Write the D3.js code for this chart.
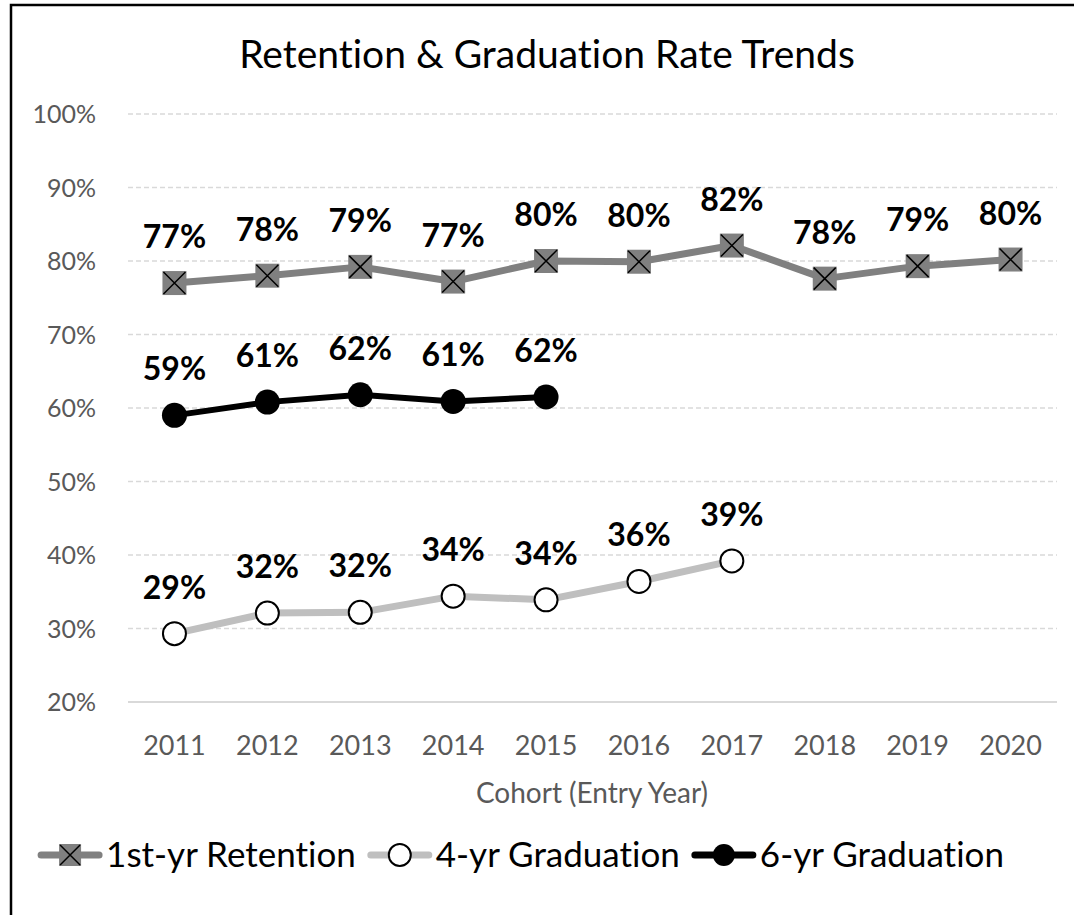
<!DOCTYPE html>
<html>
<head>
<meta charset="utf-8">
<script src="https://cdn.jsdelivr.net/npm/d3@7"></script>
<style>
  html, body { margin: 0; padding: 0; background: #fff; }
  svg { display: block; font-family: Lato, "Open Sans", sans-serif; font-variant-ligatures: none; }
</style>
</head>
<body>
<div id="chart"></div>
<script>
const years = ['2011', '2012', '2013', '2014', '2015', '2016', '2017', '2018', '2019', '2020'];
const retention = [0.770, 0.780, 0.792, 0.772, 0.800, 0.799, 0.821, 0.776, 0.793, 0.802];
const grad4 = [0.293, 0.321, 0.322, 0.344, 0.339, 0.364, 0.392];
const grad6 = [0.590, 0.608, 0.618, 0.609, 0.615];
const yTicks = [0.2, 0.3, 0.4, 0.5, 0.6, 0.7, 0.8, 0.9, 1.0];
const seriesNames = ['1st-yr Retention', '4-yr Graduation', '6-yr Graduation'];

const width = 1074, height = 915;
const pct = d3.format('.0%');

const svg = d3.select('#chart').append('svg')
  .attr('width', width).attr('height', height);

// chart frame
svg.append('rect')
  .attr('x', 11).attr('y', 5)
  .attr('width', 1100).attr('height', 950)
  .attr('fill', '#fff').attr('stroke', '#000').attr('stroke-width', 2.5);

svg.append('text')
  .attr('x', 547).attr('y', 68)
  .attr('text-anchor', 'middle')
  .attr('fill', '#000')
  .style('font-size', '39px')
  .text('Retention & Graduation Rate Trends');

const x = d3.scaleBand().domain(years).range([128, 1057]);
const y = d3.scaleLinear().domain([0.2, 1.0]).range([702, 114]);
const cx = d => x(d) + x.bandwidth() / 2;

// gridlines
const grid = svg.append('g');
grid.selectAll('line')
  .data(yTicks)
  .join('line')
  .attr('x1', 128).attr('x2', 1057)
  .attr('y1', d => y(d)).attr('y2', d => y(d))
  .attr('stroke', '#d9d9d9')
  .attr('stroke-width', d => d === 0.2 ? 2 : 1.5)
  .attr('stroke-dasharray', d => d === 0.2 ? null : '5,3');

// y labels
svg.append('g').selectAll('text')
  .data(yTicks)
  .join('text')
  .attr('x', 96).attr('y', d => y(d) + 9)
  .attr('text-anchor', 'end')
  .attr('fill', '#595959')
  .style('font-size', '25px')
  .text(pct);

// x labels
svg.append('g').selectAll('text')
  .data(years)
  .join('text')
  .attr('x', d => cx(d)).attr('y', 755)
  .attr('text-anchor', 'middle')
  .attr('fill', '#595959')
  .style('font-size', '27px')
  .text(d => d);

svg.append('text')
  .attr('x', 592).attr('y', 803)
  .attr('text-anchor', 'middle')
  .attr('fill', '#595959')
  .style('font-size', '28px')
  .text('Cohort (Entry Year)');

const line = d3.line()
  .x((d, i) => cx(years[i]))
  .y(d => y(d));

// lines
svg.append('path').datum(grad4)
  .attr('d', line).attr('fill', 'none')
  .attr('stroke', '#bfbfbf').attr('stroke-width', 7).attr('stroke-linejoin', 'round');
svg.append('path').datum(grad6)
  .attr('d', line).attr('fill', 'none')
  .attr('stroke', '#000').attr('stroke-width', 6).attr('stroke-linejoin', 'round');
svg.append('path').datum(retention)
  .attr('d', line).attr('fill', 'none')
  .attr('stroke', '#808080').attr('stroke-width', 7).attr('stroke-linejoin', 'round');

function xMarker(g, px, py, s) {
  g.append('rect')
    .attr('x', px - s / 2).attr('y', py - s / 2)
    .attr('width', s).attr('height', s)
    .attr('fill', '#808080');
  const h = s / 2 - 1;
  g.append('path')
    .attr('d', `M${px - h},${py - h}L${px + h},${py + h}M${px - h},${py + h}L${px + h},${py - h}`)
    .attr('stroke', '#000').attr('stroke-width', 1.5);
}

// markers
const m4 = svg.append('g');
grad4.forEach((v, i) => {
  m4.append('circle')
    .attr('cx', cx(years[i])).attr('cy', y(v)).attr('r', 11.5)
    .attr('fill', '#fff').attr('stroke', '#000').attr('stroke-width', 2);
});
const m6 = svg.append('g');
grad6.forEach((v, i) => {
  m6.append('circle')
    .attr('cx', cx(years[i])).attr('cy', y(v)).attr('r', 12.5)
    .attr('fill', '#000');
});
const mr = svg.append('g');
retention.forEach((v, i) => xMarker(mr, cx(years[i]), y(v), 24));

// data labels
const labels = svg.append('g')
  .style('font-size', '32px')
  .style('font-weight', '700');
[retention, grad4, grad6].forEach(series => {
  series.forEach((v, i) => {
    labels.append('text')
      .attr('x', cx(years[i])).attr('y', y(v) - 35)
      .attr('text-anchor', 'middle')
      .attr('fill', '#000')
      .text(pct(v));
  });
});

// legend, laid out left to right then centred
const legend = svg.append('g').style('font-size', '35px');
const colors = ['#808080', '#bfbfbf', '#000'];
const ly = 855;
let lx = 0;
seriesNames.forEach((name, k) => {
  legend.append('line')
    .attr('x1', lx + 3).attr('x2', lx + 61)
    .attr('y1', ly).attr('y2', ly)
    .attr('stroke', colors[k]).attr('stroke-width', 7).attr('stroke-linecap', 'round');
  const mx = lx + 32;
  if (k === 0) xMarker(legend, mx, ly, 22);
  else if (k === 1) legend.append('circle').attr('cx', mx).attr('cy', ly).attr('r', 11)
    .attr('fill', '#fff').attr('stroke', '#000').attr('stroke-width', 2);
  else legend.append('circle').attr('cx', mx).attr('cy', ly).attr('r', 11).attr('fill', '#000');
  const t = legend.append('text')
    .attr('x', lx + 68).attr('y', ly + 12)
    .attr('fill', '#000')
    .text(name);
  lx += 68 + t.node().getComputedTextLength() + 12;
});
const legendW = lx - 12;
legend.attr('transform', `translate(${521 - legendW / 2},0)`);
</script>
</body>
</html>
